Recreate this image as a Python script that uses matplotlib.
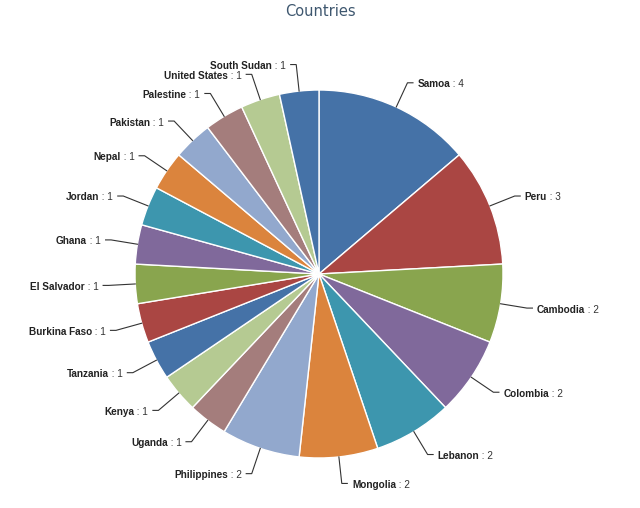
import numpy as np
import matplotlib
matplotlib.use("Agg")
import matplotlib.pyplot as plt
from matplotlib.offsetbox import TextArea, HPacker, AnnotationBbox

# data
countries = ["Samoa", "Peru", "Cambodia", "Colombia", "Lebanon", "Mongolia",
             "Philippines", "Uganda", "Kenya", "Tanzania", "Burkina Faso",
             "El Salvador", "Ghana", "Jordan", "Nepal", "Pakistan", "Palestine",
             "United States", "South Sudan"]
counts = [4, 3, 2, 2, 2, 2, 2, 1, 1, 1, 1, 1, 1, 1, 1, 1, 1, 1, 1]

# old highcharts palette
palette = ["#4572A7", "#AA4643", "#89A54E", "#80699B", "#3D96AE",
           "#DB843D", "#92A8CD", "#A47D7C", "#B5CA92"]
colors = [palette[i % len(palette)] for i in range(len(counts))]

W, H = 640, 508
cx, cy, R = 319, 274, 184   # pie centre / radius in pixels

fig = plt.figure(figsize=(W / 100, H / 100), dpi=100)
ax = fig.add_axes([0, 0, 1, 1])

wedges, _ = ax.pie(counts, colors=colors, startangle=90, counterclock=False,
                   radius=1, center=(0, 0), frame=True,
                   wedgeprops=dict(edgecolor="white", linewidth=1))
ax.set_xlim(-cx / R, (W - cx) / R)
ax.set_ylim(-(H - cy) / R, cy / R)
ax.axis("off")

lab_font = "Liberation Sans"
for w, name, n in zip(wedges, countries, counts):
    mid = np.deg2rad((w.theta1 + w.theta2) / 2)
    ca, sa = np.cos(mid), np.sin(mid)
    right = ca >= 0
    sgn = 1 if right else -1
    ex, ey = 1.145 * ca, 1.145 * sa
    hx = ex + sgn * 0.03
    ax.plot([ca, ex, hx], [sa, ey, ey], color="#333333", lw=0.8,
            solid_joinstyle="miter")
    box = HPacker(children=[
        TextArea(name, textprops=dict(fontsize=7.2, fontweight="bold",
                                      family=lab_font, color="#222222")),
        TextArea(" : %d" % n, textprops=dict(fontsize=7.2, family=lab_font,
                                             color="#333333")),
    ], align="baseline", pad=0, sep=0)
    ab = AnnotationBbox(box, (hx + sgn * 0.025, ey - 0.008), frameon=False,
                        box_alignment=(0 if right else 1, 0.5), pad=0)
    ax.add_artist(ab)

fig.text(0.5, 1 - 11 / H, "Countries", ha="center", va="center",
         fontsize=10.5, color="#3E576F")

fig.savefig("out.png", dpi=100, facecolor="white")
